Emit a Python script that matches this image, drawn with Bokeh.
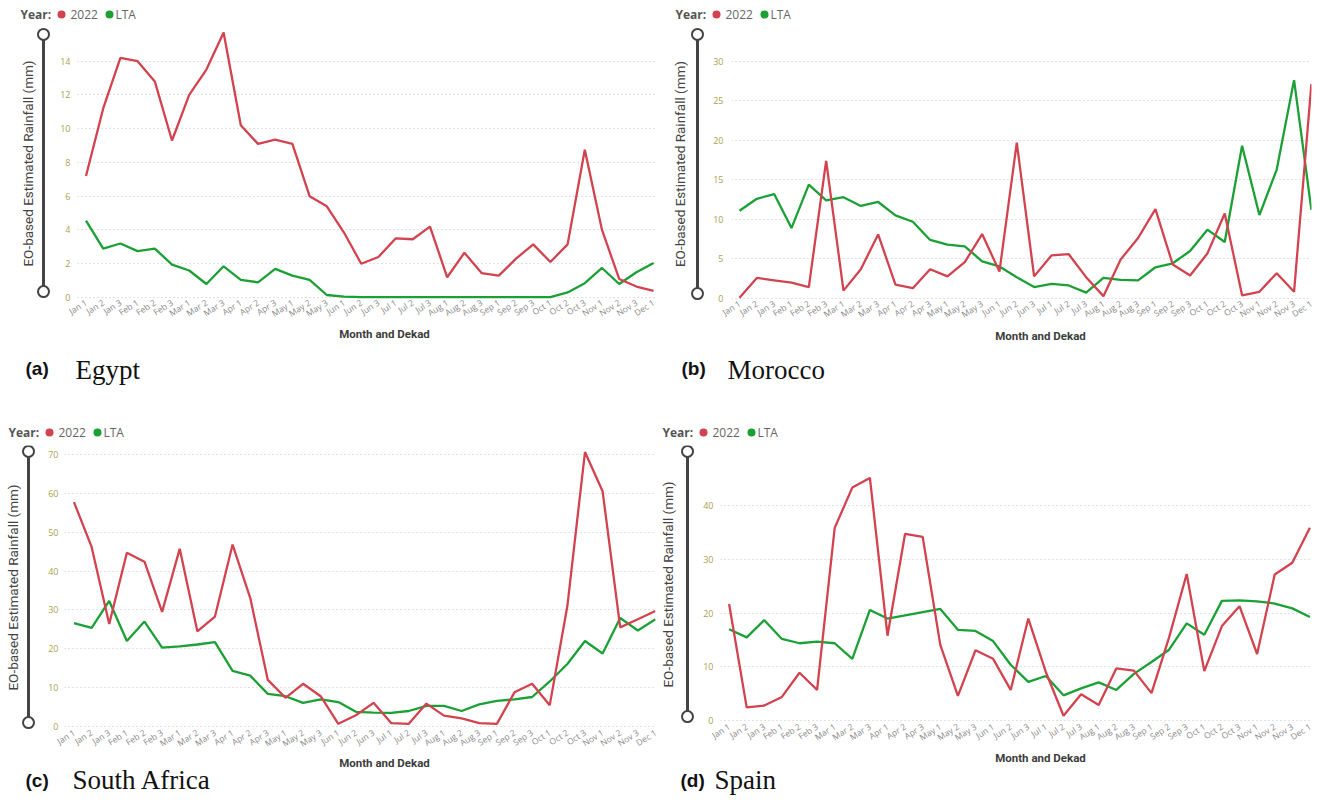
import math
from bokeh.plotting import figure
from bokeh.models import Range1d, FixedTicker, Label, ColumnDataSource
from bokeh.layouts import column, row
from bokeh.embed import file_html
from bokeh.resources import INLINE

# ---------------- data ----------------
dekads = ["Jan 1", "Jan 2", "Jan 3", "Feb 1", "Feb 2", "Feb 3", "Mar 1", "Mar 2", "Mar 3",
          "Apr 1", "Apr 2", "Apr 3", "May 1", "May 2", "May 3", "Jun 1", "Jun 2", "Jun 3",
          "Jul 1", "Jul 2", "Jul 3", "Aug 1", "Aug 2", "Aug 3", "Sep 1", "Sep 2", "Sep 3",
          "Oct 1", "Oct 2", "Oct 3", "Nov 1", "Nov 2", "Nov 3", "Dec 1"]

egypt_2022 = [7.2, 11.2, 14.2, 14.0, 12.8, 9.3, 12.0, 13.5, 15.7, 10.2, 9.1, 9.35, 9.1, 6.0,
              5.4, 3.85, 2.0, 2.4, 3.5, 3.45, 4.2, 1.2, 2.65, 1.45, 1.3, 2.3, 3.15, 2.1, 3.15,
              8.75, 4.0, 1.1, 0.65, 0.4]
egypt_lta = [4.55, 2.9, 3.2, 2.75, 2.9, 1.95, 1.6, 0.8, 1.85, 1.05, 0.9, 1.7, 1.3, 1.05,
             0.15, 0.05, 0.02, 0.02, 0.02, 0.02, 0.02, 0.02, 0.02, 0.02, 0.02, 0.02, 0.02,
             0.02, 0.3, 0.85, 1.75, 0.8, 1.5, 2.05]

morocco_2022 = [0.1, 2.6, 2.3, 2.0, 1.45, 17.4, 1.0, 3.7, 8.1, 1.75, 1.3, 3.7, 2.8, 4.6,
                8.15, 3.4, 19.7, 2.8, 5.45, 5.6, 2.7, 0.3, 4.95, 7.65, 11.3, 4.3, 2.9, 5.7,
                10.75, 0.4, 0.85, 3.2, 0.85, 27.1]
morocco_lta = [11.1, 12.6, 13.2, 8.9, 14.4, 12.4, 12.8, 11.7, 12.2, 10.5, 9.7, 7.4, 6.8, 6.6,
               4.7, 4.05, 2.7, 1.45, 1.85, 1.65, 0.75, 2.6, 2.35, 2.3, 3.95, 4.45, 6.0, 8.7,
               7.15, 19.3, 10.55, 16.3, 27.6, 11.2]

safrica_2022 = [57.7, 46.2, 26.4, 44.7, 42.4, 29.5, 45.7, 24.5, 28.3, 46.8, 33.1, 12.0, 7.4,
                11.0, 7.8, 0.7, 2.9, 6.1, 0.9, 0.7, 5.9, 2.8, 2.1, 0.9, 0.7, 8.8, 11.0, 5.5,
                31.0, 70.6, 60.5, 25.5, 27.6, 29.7]
safrica_lta = [26.6, 25.4, 32.3, 22.0, 27.0, 20.3, 20.6, 21.1, 21.7, 14.3, 13.1, 8.4, 7.8,
               6.1, 7.0, 6.3, 3.8, 3.6, 3.5, 4.0, 5.3, 5.3, 4.0, 5.7, 6.6, 7.0, 7.6, 11.6,
               16.1, 22.0, 18.8, 27.9, 24.7, 27.6]

spain_2022 = [21.7, 2.45, 2.8, 4.4, 8.9, 5.7, 35.9, 43.4, 45.2, 15.8, 34.8, 34.2, 14.1, 4.6,
              13.1, 11.5, 5.7, 19.0, 9.0, 0.9, 4.9, 2.9, 9.7, 9.3, 5.1, 15.5, 27.3, 9.2, 17.6,
              21.3, 12.4, 27.2, 29.4, 35.9]
spain_lta = [17.0, 15.5, 18.7, 15.2, 14.4, 14.7, 14.4, 11.5, 20.6, 19.0, 19.6, 20.2, 20.8,
             16.9, 16.7, 14.8, 10.4, 7.2, 8.3, 4.7, 6.0, 7.1, 5.7, 8.7, 10.9, 13.2, 18.1,
             16.0, 22.3, 22.4, 22.2, 21.8, 20.9, 19.3]

egypt_ticks = [0, 2, 4, 6, 8, 10, 12, 14]
morocco_ticks = [0, 5, 10, 15, 20, 25, 30]
safrica_ticks = [0, 10, 20, 30, 40, 50, 60, 70]
spain_ticks = [0, 10, 20, 30, 40]

series_names = ["2022", "LTA"]
y_title = "EO-based Estimated Rainfall (mm)"
x_title = "Month and Dekad"

RED = "#D2434F"
GREEN = "#1AA034"
DARK = "#444444"


def strip(x0, y_top, w, h, y_bottom=None, mbb=0):
    """A plain drawing area whose data units are page pixels (y downwards)."""
    if y_bottom is None:
        y_bottom = y_top + h
    s = figure(width=w, height=h, x_range=Range1d(x0, x0 + w),
               y_range=Range1d(y_bottom, y_top),
               output_backend="svg", toolbar_location=None, title_location=None,
               x_axis_location=None, y_axis_location=None,
               min_border_left=0, min_border_right=0, min_border_top=0,
               min_border_bottom=mbb)
    s.outline_line_color = None
    s.grid.visible = False
    s.background_fill_color = "white"
    s.border_fill_color = "white"
    return s


def add_legend(t, lx, ly):
    t.add_layout(Label(x=lx, y=ly, text="Year:", text_font="Open Sans",
                       text_font_style="bold", text_font_size="12px",
                       text_color="#555555", text_align="left", text_baseline="middle"))
    t.scatter(x=[lx + 41, lx + 89], y=[ly, ly], size=8, marker="circle",
              fill_color=[RED, GREEN], line_color=None)
    for tx, txt in ((lx + 50, series_names[0]), (lx + 95, series_names[1])):
        t.add_layout(Label(x=tx, y=ly, text=txt, text_font="Open Sans",
                           text_font_size="12px", text_color="#666666",
                           text_align="left", text_baseline="middle"))


def make_panel(g, s2022, slta, yticks, tag, name):
    ox, oy, W, H = g["ox"], g["oy"], g["W"], g["H"]
    fl, fr, ft, fb = g["fl"], g["fr"], g["ft"], g["fb"]
    zero, ppu = g["zero"], g["ppu"]
    sp, jan1 = g["sp"], g["jan1"]
    split = g["split"]           # x where left strip ends and the chart begins
    mb = g["mb"]                 # room under the frame for the tick labels

    mid_h = fb + mb - ft
    bot_y = fb + mb
    bot_h = oy + H - bot_y

    # ---------- chart ----------
    x0 = -(jan1 - fl) / sp
    x1 = x0 + (fr - fl) / sp
    y0 = -(fb - zero) / ppu
    y1 = y0 + (fb - ft) / ppu
    p = figure(width=ox + W - split, height=mid_h,
               x_range=Range1d(x0, x1), y_range=Range1d(y0, y1),
               output_backend="svg", toolbar_location=None, title_location=None,
               min_border_left=fl - split, min_border_right=ox + W - fr,
               min_border_top=0, min_border_bottom=mb)
    p.outline_line_color = None
    p.xgrid.grid_line_color = None
    p.ygrid.grid_line_color = "#c4c4c4"
    p.ygrid.grid_line_dash = "1 3"
    p.ygrid.grid_line_width = 1
    p.yaxis.ticker = FixedTicker(ticks=yticks)
    p.xaxis.ticker = FixedTicker(ticks=list(range(len(dekads))))
    p.xaxis.major_label_overrides = {i: lab for i, lab in enumerate(dekads)}
    for ax in (p.xaxis[0], p.yaxis[0]):
        ax.axis_line_color = None
        ax.major_tick_line_color = None
        ax.minor_tick_line_color = None
        ax.major_tick_out = 0
        ax.major_tick_in = 0
    p.xaxis.major_label_orientation = 0.56
    p.xaxis.major_label_text_font = "Open Sans"
    p.xaxis.major_label_text_font_size = "8.5px"
    p.xaxis.major_label_text_color = "#8a8a8a"
    p.xaxis.major_label_standoff = 2
    p.yaxis.major_label_text_font = "Open Sans"
    p.yaxis.major_label_text_font_size = "9px"
    p.yaxis.major_label_text_color = "#ABA150"
    p.yaxis.major_label_standoff = fl - g["ytick_r"]

    src = ColumnDataSource(dict(x=list(range(len(dekads))), a=s2022, b=slta))
    p.line("x", "b", source=src, line_color=GREEN, line_width=2.3)
    p.line("x", "a", source=src, line_color=RED, line_width=2.3)

    # ---------- left strip: axis title + slider (frame matches the chart frame) ----------
    l = strip(ox, ft, split - ox, mid_h, y_bottom=fb, mbb=mb)
    slx, sltop, slbot = g["slider"]
    l.segment(x0=[slx], y0=[sltop], x1=[slx], y1=[slbot], line_color=DARK, line_width=3)
    l.scatter(x=[slx, slx], y=[sltop, slbot], size=11, marker="circle",
              fill_color="white", line_color=DARK, line_width=2)
    l.add_layout(Label(x=g["ylab_x"], y=(ft + fb) / 2, text=y_title, angle=math.pi / 2,
                       text_font="Roboto", text_font_size="13.5px", text_color=DARK,
                       text_align="center", text_baseline="middle"))

    # ---------- bottom strip: axis title + caption ----------
    b = strip(ox, bot_y, W, bot_h)
    xt_x, xt_y = g["xtitle"]
    b.add_layout(Label(x=xt_x, y=xt_y, text=x_title, text_font="Roboto",
                       text_font_style="bold", text_font_size="11.5px",
                       text_color="#3c3c3c", text_align="center", text_baseline="middle"))
    (tx0, tcy), (nx0, ncy) = g["caption"]
    b.add_layout(Label(x=tx0, y=tcy, text=tag, text_font="Liberation Sans",
                       text_font_style="bold", text_font_size="19px", text_color="#111111",
                       text_align="left", text_baseline="middle"))
    b.add_layout(Label(x=nx0, y=ncy, text=name, text_font="Liberation Serif",
                       text_font_size="27px", text_color="#111111", text_align="left",
                       text_baseline="middle"))

    return column(row(l, p), b)


geo_a = dict(ox=0, oy=0, W=660, H=420, fl=77, fr=655, ft=27, fb=302, zero=300, ppu=17.07,
             sp=17.2, jan1=85.5, ytick_r=70, split=55, mb=24, slider=(43, 34, 294),
             legend=(20, 14), ylab_x=27, xtitle=(384, 333),
             caption=((25, 368), (75, 369)))
geo_b = dict(ox=660, oy=0, W=660, H=420, fl=731, fr=1311, ft=27, fb=303, zero=301, ppu=8.0,
             sp=17.33, jan1=739, ytick_r=723, split=708, mb=24, slider=(697, 34, 296),
             legend=(675, 14), ylab_x=679, xtitle=(1040, 335),
             caption=((681, 368), (727, 369)))
geo_c = dict(ox=0, oy=420, W=660, H=389, fl=64, fr=655, ft=445, fb=734, zero=731, ppu=3.957,
             sp=17.62, jan1=73.5, ytick_r=58, split=40, mb=22, slider=(28, 451, 727),
             legend=(8, 432), ylab_x=12, xtitle=(384, 762),
             caption=((25, 780), (72, 779)))
geo_d = dict(ox=660, oy=420, W=660, H=389, fl=720, fr=1311, ft=445, fb=726, zero=723,
             ppu=5.425, sp=17.6, jan1=728.6, ytick_r=713, split=698, mb=24,
             slider=(687, 451, 719), legend=(662, 432), ylab_x=667, xtitle=(1040, 757),
             caption=((680, 780), (714, 779)))

# full-width legend strips above each row of panels
top1 = strip(0, 0, 1320, geo_a["ft"])
add_legend(top1, *geo_a["legend"])
add_legend(top1, *geo_b["legend"])
top2 = strip(0, 420, 1320, geo_c["ft"] - 420)
add_legend(top2, *geo_c["legend"])
add_legend(top2, *geo_d["legend"])

pa = make_panel(geo_a, egypt_2022, egypt_lta, egypt_ticks, "(a)", "Egypt")
pb = make_panel(geo_b, morocco_2022, morocco_lta, morocco_ticks, "(b)", "Morocco")
pc = make_panel(geo_c, safrica_2022, safrica_lta, safrica_ticks, "(c)", "South Africa")
pd = make_panel(geo_d, spain_2022, spain_lta, spain_ticks, "(d)", "Spain")

layout = column(top1, row(pa, pb), top2, row(pc, pd))
open("out.html", "w").write(file_html(layout, INLINE))
